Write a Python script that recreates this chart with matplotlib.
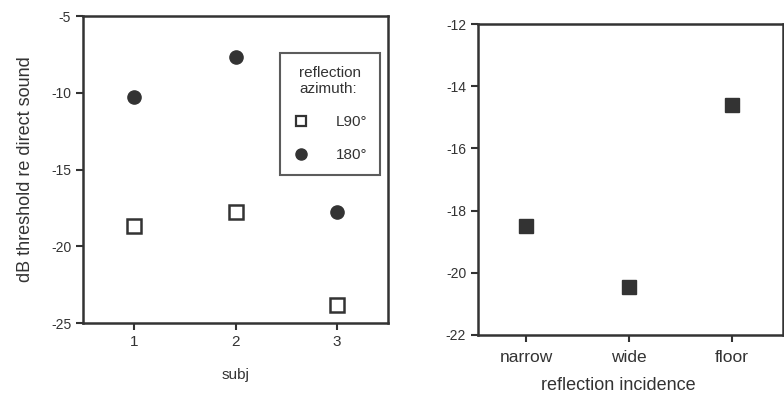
import numpy as np
import matplotlib.pyplot as plt
from matplotlib.lines import Line2D

plt.rcParams['font.family'] = ['Liberation Sans', 'DejaVu Sans']
plt.rcParams['axes.unicode_minus'] = False

# dati pannello sinistro
subj = [1, 2, 3]
thr_L90 = [-18.7, -17.8, -23.8]
thr_180 = [-10.3, -7.7, -17.8]

# dati pannello destro
incidence = ['narrow', 'wide', 'floor']
thr_incidence = [-18.5, -20.45, -14.6]

ink = '#333333'

fig = plt.figure(figsize=(7.84, 3.94), dpi=100)
ax1 = fig.add_axes([83 / 784, 1 - 323 / 394, 305 / 784, 307 / 394])
ax2 = fig.add_axes([478 / 784, 1 - 335 / 394, 305 / 784, 311 / 394])

for ax in (ax1, ax2):
    for s in ax.spines.values():
        s.set_linewidth(1.8)
        s.set_color(ink)
    ax.tick_params(direction='out', length=5, width=1.5, color=ink,
                   labelcolor=ink, labelsize=10)

# pannello sinistro
ax1.plot(subj, thr_L90, 's', ms=9.5, mfc='white', mec=ink, mew=1.8)
ax1.plot(subj, thr_180, 'o', ms=9.5, mfc=ink, mec=ink)
ax1.set_xlim(0.5, 3.5)
ax1.set_ylim(-25, -5)
ax1.set_xticks(subj)
ax1.set_yticks([-25, -20, -15, -10, -5])
ax1.tick_params(axis='x', labelsize=11)
ax1.set_xlabel('subj', color=ink, fontsize=11, labelpad=14)
ax1.set_ylabel('dB threshold re direct sound', color=ink, fontsize=13, labelpad=12)

handles = [Line2D([], [], ls='none', marker='s', ms=7, mfc='white', mec=ink, mew=1.6),
           Line2D([], [], ls='none', marker='o', ms=8, mfc=ink, mec=ink)]
leg = ax1.legend(handles, ['L90°', '180°'], title='reflection\nazimuth:',
                 loc='upper right', bbox_to_anchor=(0.975, 0.88),
                 frameon=True, fancybox=False, edgecolor=ink, fontsize=11,
                 title_fontsize=11, handlelength=1.0, handletextpad=1.8,
                 labelspacing=1.25, borderpad=0.85, borderaxespad=0)
leg.get_frame().set_linewidth(1.5)
leg.get_title().set_color(ink)
for t in leg.get_texts():
    t.set_color(ink)

# pannello destro
pos = np.arange(len(incidence))
ax2.plot(pos, thr_incidence, 's', ms=10, mfc=ink, mec=ink)
ax2.set_xlim(-0.47, 2.5)
ax2.set_ylim(-22, -12)
ax2.set_xticks(pos)
ax2.set_xticklabels(incidence, fontsize=12.5)
ax2.tick_params(axis='x', pad=6)
ax2.set_yticks([-22, -20, -18, -16, -14, -12])
ax2.set_xlabel('reflection incidence', color=ink, fontsize=13)
ax2.xaxis.set_label_coords(0.46, -0.135)

fig.savefig('out.png', dpi=100)
